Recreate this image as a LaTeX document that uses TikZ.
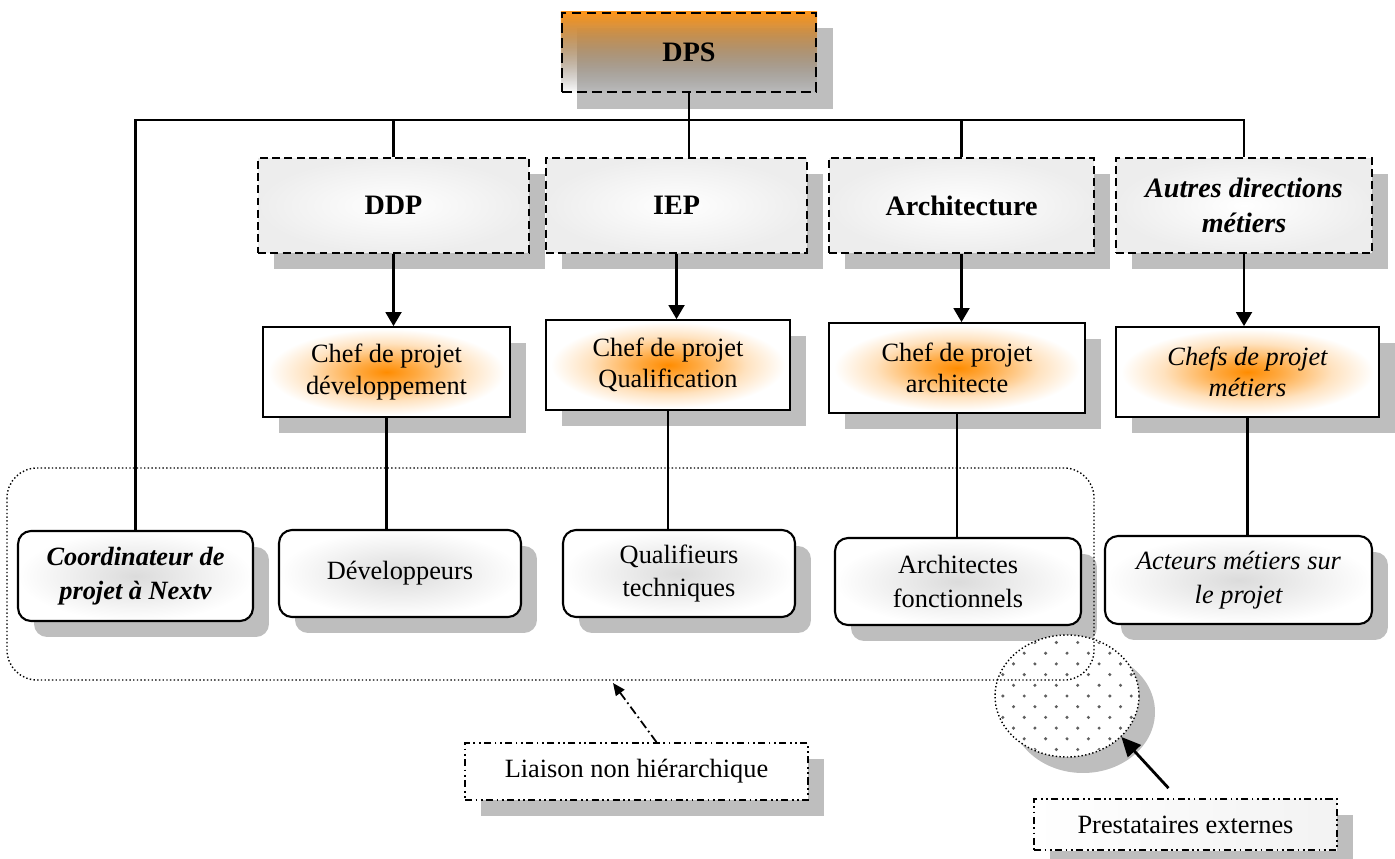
\documentclass[tikz,border=0pt]{standalone}
\usepackage{fontspec}
\setmainfont{Liberation Serif}
\usetikzlibrary{arrows.meta, shadows, fadings, backgrounds, calc, shapes.geometric}

\definecolor{shadowgray}{RGB}{190,190,190}
\definecolor{dpsorange}{RGB}{255,150,25}
\definecolor{chieforange}{RGB}{255,140,0}
\definecolor{dotgray}{RGB}{95,95,95}
\tikzfading[name=fadedown, top color=transparent!0, bottom color=transparent!100]
\pgfdeclareradialshading{chiefglow}{\pgfpoint{0bp}{0bp}}{color(0bp)=(chieforange); color(6bp)=(chieforange!75!white); color(16bp)=(chieforange!25!white); color(24bp)=(white); color(50bp)=(white)}

\begin{document}
\begin{tikzpicture}[x=0.02cm, y=-0.02cm,
    boxshadow/.style={general shadow={fill=shadowgray, shadow xshift=0.32cm, shadow yshift=-0.32cm}},
    dpsbox/.style={rectangle, draw, dash pattern=on 5.5pt off 3pt, line width=1.3pt, minimum width=5.08cm, minimum height=1.58cm, font=\fontsize{16}{19}\selectfont\bfseries},
    direction/.style={rectangle, draw, dash pattern=on 4.5pt off 2.5pt, line width=1pt, inner color=white, outer color=gray!14, boxshadow, minimum height=1.9cm, align=center, font=\fontsize{16}{20}\selectfont\bfseries},
    chief/.style={rectangle, draw, line width=1pt, shading=chiefglow, boxshadow, minimum height=1.8cm, align=center, font=\fontsize{15}{18}\selectfont},
    team/.style={rectangle, rounded corners=0.26cm, draw, line width=1.2pt, inner color=gray!28, outer color=white, boxshadow, minimum height=1.74cm, align=center, font=\fontsize{15}{19}\selectfont},
    legend/.style={rectangle, draw, line width=1pt, dash pattern=on 4pt off 2pt on 1pt off 2pt on 1pt off 2pt, fill=white, boxshadow, font=\fontsize{15}{18}\selectfont},
    dottedline/.style={line width=0.8pt, dash pattern=on 0.8pt off 1.3pt},
    link/.style={line width=1.2pt},
    arrow/.style={-{Triangle[width=9pt,length=8pt]}, line width=1.4pt},
    legendarrow/.style={-{Triangle[width=6pt,length=7pt]}, line width=1pt, dash pattern=on 5pt off 2pt on 1pt off 2pt},
    bigarrow/.style={-{Triangle[width=10pt,length=11pt]}, line width=1.6pt}
]
    \useasboundingbox (0,0) rectangle (1395,858);

    % Head of the chart
    \node[dpsbox] (dps) at (689,52.5) {DPS};
    \begin{pgfonlayer}{background}
        \fill[shadowgray] ($(dps.north west)+(16,16)$) rectangle ($(dps.south east)+(16,16)$);
        \fill[top color=dpsorange, bottom color=white, path fading=fadedown] (dps.north west) rectangle (dps.south east);
    \end{pgfonlayer}

    % Directions
    \node[direction, minimum width=5.42cm] (ddp) at (393.5,205.5) {DDP};
    \node[direction, minimum width=5.22cm] (iep) at (676.5,205.5) {IEP};
    \node[direction, minimum width=5.3cm] (arch) at (961.5,205.5) {Architecture};
    \node[direction, minimum width=5.12cm, font=\fontsize{16}{20}\selectfont\bfseries\itshape] (adm) at (1244,205.5) {Autres directions\\métiers};

    % Project leaders
    \node[chief, minimum width=4.94cm] (cpd) at (386.5,372) {Chef de projet\\développement};
    \node[chief, minimum width=4.88cm] (cpq) at (668,365) {Chef de projet\\Qualification};
    \node[chief, minimum width=5.12cm] (cpa) at (957,368) {Chef de projet\\architecte};
    \node[chief, minimum width=5.26cm, font=\fontsize{15}{18}\selectfont\itshape] (cpm) at (1247.5,372) {Chefs de projet\\métiers};

    % Teams
    \node[team, minimum width=4.7cm, minimum height=1.8cm, font=\fontsize{15}{19}\selectfont\bfseries\itshape] (coord) at (135.5,576) {Coordinateur de\\projet à Nextv};
    \node[team, minimum width=4.84cm] (dev) at (400,573.5) {Développeurs};
    \node[team, minimum width=4.64cm] (qual) at (679,573.5) {Qualifieurs\\techniques};
    \node[team, minimum width=4.92cm] (archf) at (958,581.5) {Architectes\\fonctionnels};
    \node[team, minimum width=5.34cm, minimum height=1.76cm, font=\fontsize{15}{19}\selectfont\itshape] (act) at (1238.5,580) {Acteurs métiers sur\\le projet};

    % Hierarchy
    \coordinate (bus) at (0,120);
    \draw[link] (dps.south) -- (iep.north -| dps.south);
    \draw[link] (coord.north) -- (coord.north |- bus) -- (adm.north |- bus) -- (adm.north);
    \draw[link] (ddp.north) -- (ddp.north |- bus);
    \draw[link] (arch.north) -- (arch.north |- bus);

    \draw[arrow] (ddp.south) -- (cpd.north -| ddp.south);
    \draw[arrow] (iep.south) -- (cpq.north -| iep.south);
    \draw[arrow] (arch.south) -- (cpa.north -| arch.south);
    \draw[arrow] (adm.south) -- (cpm.north -| adm.south);

    \draw[link] (cpd.south) -- (dev.north -| cpd.south);
    \draw[link] (cpq.south) -- (qual.north -| cpq.south);
    \draw[link] (cpa.south) -- (archf.north -| cpa.south);
    \draw[link] (cpm.south) -- (act.north -| cpm.south);

    % External providers
    \node[ellipse, draw, dottedline, fill=white, boxshadow, minimum width=2.88cm, minimum height=2.44cm, inner sep=0pt] (ext) at (1067,696) {};
    \begin{scope}
        \clip (ext.center) ellipse [x radius=71, y radius=60];
        \foreach \i in {-4,...,4}
            \foreach \j in {-3,...,3} {
                \fill[dotgray] ($(ext.center)+(21.4*\i,21.4*\j)$) circle [radius=1.7];
                \fill[dotgray] ($(ext.center)+(21.4*\i+10.7,21.4*\j+10.7)$) circle [radius=1.7];
            }
    \end{scope}

    % Non hierarchical group
    \draw[dottedline, rounded corners=0.6cm] (7,468) rectangle (1094,680);

    % Legends
    \node[legend, minimum width=6.86cm, minimum height=1.14cm] (liaison) at (636.5,771.5) {Liaison non hiérarchique};
    \node[legend, minimum width=6.06cm, minimum height=1.02cm, left color=white, right color=gray!10] (prest) at (1185.5,824.5) {Prestataires externes};

    \coordinate (liaisontip) at (613,683);
    \draw[legendarrow] ($(liaison.north)+(20,0)$) -- (liaisontip);
    \draw[bigarrow] ($(prest.north)+(-17,-10)$) -- (ext.-37);
\end{tikzpicture}
\end{document}
